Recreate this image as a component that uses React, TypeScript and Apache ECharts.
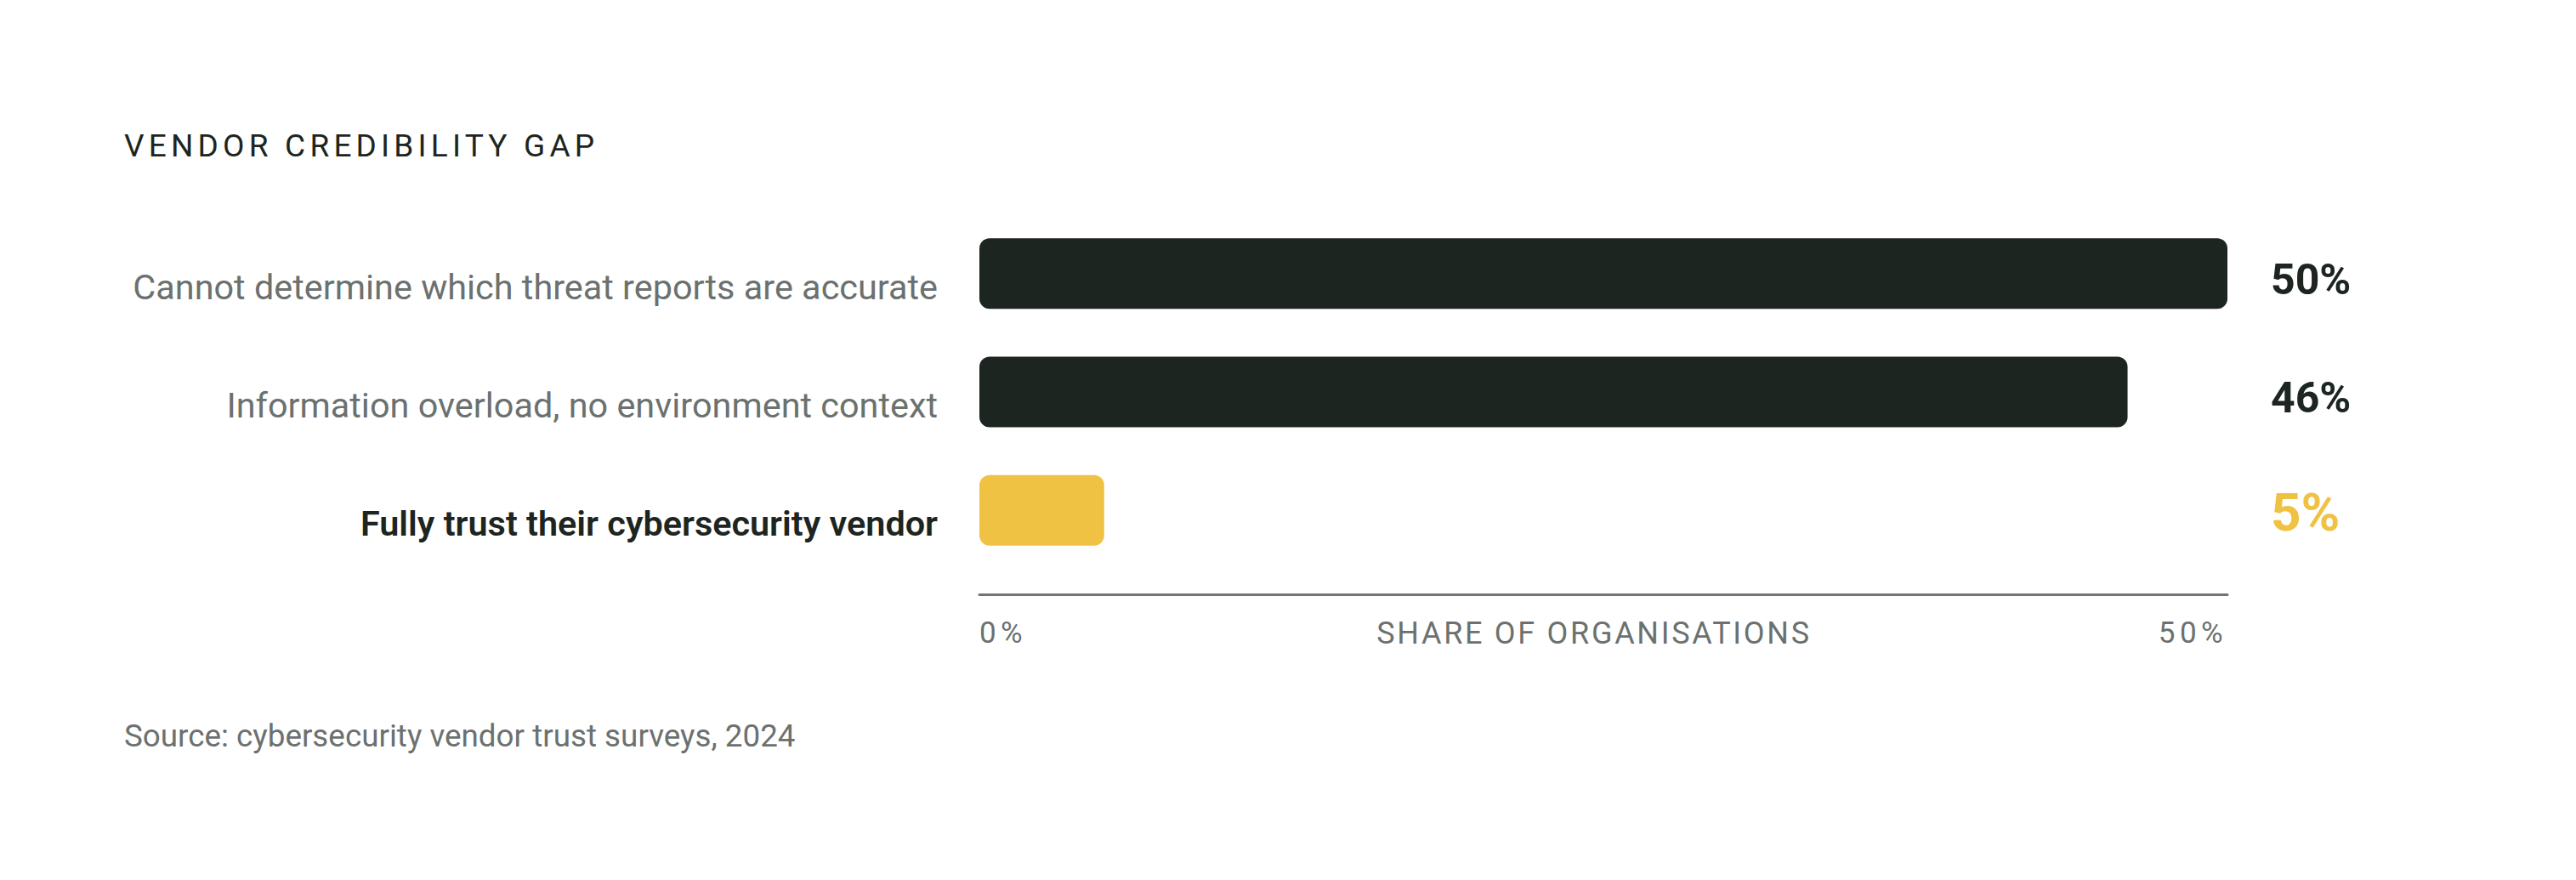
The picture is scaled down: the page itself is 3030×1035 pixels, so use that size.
import React, { useEffect, useRef } from "react";
import * as echarts from "echarts";

const categories = [
  "Cannot determine which threat reports are accurate",
  "Information overload, no environment context",
  "Fully trust their cybersecurity vendor",
];
const values = [50, 46, 5];
const highlight = [false, false, true];
const xMin = 0;
const xMax = 50;
const titleText = "VENDOR CREDIBILITY GAP";
const axisName = "SHARE OF ORGANISATIONS";
const sourceText = "Source: cybersecurity vendor trust surveys, 2024";

const DARK = "#1d2521";
const GREY = "#6b716f";
const AXIS = "#6f7572";
const YELLOW = "#f0c244";
const FONT = "Roboto, 'Noto Sans', sans-serif";

export default function App() {
  const ref = useRef<HTMLDivElement>(null);

  useEffect(() => {
    if (!ref.current) return;
    const chart = echarts.init(ref.current, undefined, { renderer: "svg" });
    chart.setOption({
      animation: false,
      backgroundColor: "#ffffff",
      grid: { left: 1152, right: 410, top: 252, bottom: 365, containLabel: false },
      xAxis: {
        type: "value",
        min: xMin,
        max: xMax,
        interval: xMax - xMin,
        offset: 29,
        axisLine: { show: true, lineStyle: { color: AXIS, width: 3 } },
        axisTick: { show: false },
        splitLine: { show: false },
        axisLabel: {
          formatter: (v: number) => v + "%",
          fontSize: 35,
          fontFamily: FONT,
          color: GREY,
          margin: 28,
          alignMinLabel: "left",
          alignMaxLabel: "right",
        },
        name: axisName,
        nameLocation: "middle",
        nameGap: 28,
        nameMoveOverlap: false,
        nameTextStyle: {
          fontSize: 36,
          fontFamily: FONT,
          color: GREY,
          verticalAlign: "top",
          padding: [0, 22, 0, 0],
        },
      },
      yAxis: [
        {
          type: "category",
          data: categories,
          inverse: true,
          axisLine: { show: false },
          axisTick: { show: false },
          splitLine: { show: false },
          axisLabel: {
            margin: 49,
            formatter: (v: string, i: number) => (highlight[i] ? `{hl|${v}}` : `{n|${v}}`),
            rich: {
              n: { fontSize: 41.4, fontFamily: FONT, color: GREY, padding: [32, 0, 0, 0] },
              hl: { fontSize: 41.4, fontFamily: FONT, fontWeight: 600, color: DARK, padding: [32, 0, 0, 0] },
            },
          },
        },
        {
          type: "category",
          data: categories,
          inverse: true,
          position: "right",
          axisLine: { show: false },
          axisTick: { show: false },
          splitLine: { show: false },
          axisLabel: {
            margin: 51,
            align: "left",
            formatter: (_v: string, i: number) =>
              highlight[i] ? `{hl|${values[i]}%}` : `{n|${values[i]}%}`,
            rich: {
              n: { fontSize: 50, fontFamily: FONT, fontWeight: 700, color: DARK, padding: [14, 0, 0, 0] },
              hl: { fontSize: 62, fontFamily: FONT, fontWeight: 700, color: YELLOW, padding: [4, 0, 0, 0] },
            },
          },
        },
      ],
      series: [
        {
          type: "bar",
          yAxisIndex: 0,
          barWidth: 83,
          data: values.map((v, i) => ({
            value: v,
            itemStyle: { color: highlight[i] ? YELLOW : DARK, borderRadius: 12 },
          })),
          label: { show: false },
        },
      ],
      graphic: [
        {
          type: "text",
          x: 146,
          y: 171,
          style: {
            text: titleText,
            fontSize: 37,
            fontFamily: FONT,
            fill: DARK,
            align: "left",
            verticalAlign: "middle",
          },
        },
        {
          type: "text",
          x: 146,
          y: 865,
          style: {
            text: sourceText,
            fontSize: 36.8,
            fontFamily: FONT,
            fill: GREY,
            align: "left",
            verticalAlign: "middle",
          },
        },
      ],
    });
    return () => chart.dispose();
  }, []);

  return (
    <>
      <style>{`
        text[style*="37px"] { letter-spacing: 5.2px; }
        text[style*="35px"] { letter-spacing: 5.4px; }
        text[style*="36px"] { letter-spacing: 2.7px; }
      `}</style>
      <div
        ref={ref}
        style={{ position: "fixed", left: 0, top: 0, width: 3030, height: 1035, background: "#fff" }}
      />
    </>
  );
}
